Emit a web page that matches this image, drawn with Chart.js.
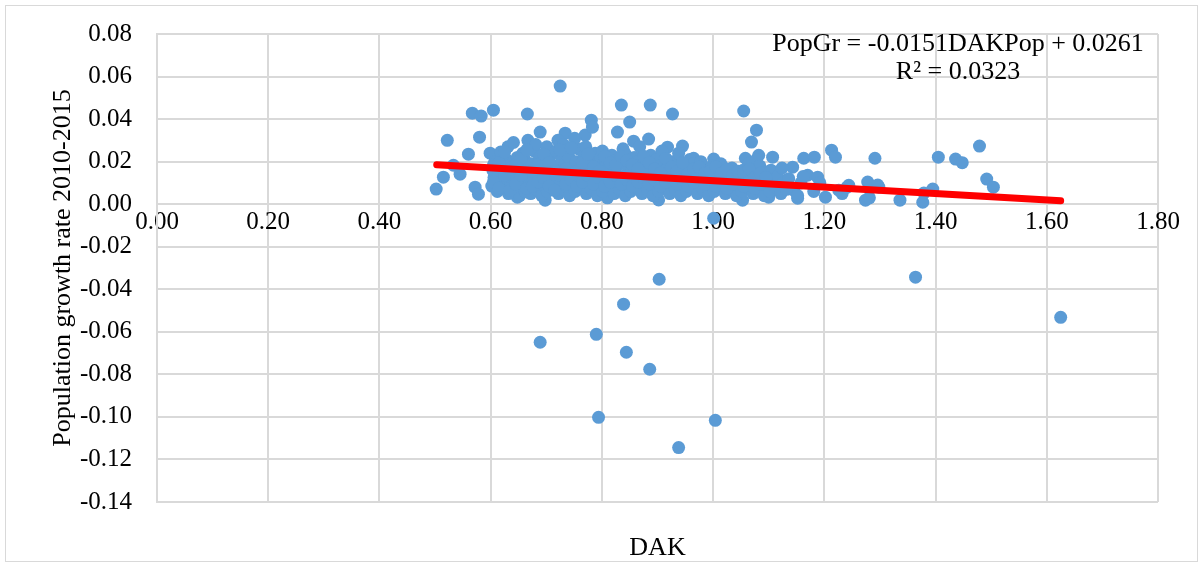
<!DOCTYPE html>
<html>
<head>
<meta charset="utf-8">
<script src="https://cdn.jsdelivr.net/npm/chart.js@4/dist/chart.umd.min.js"></script>
<style>
html,body{margin:0;padding:0;background:#fff;}
#wrap{width:1203px;height:567px;position:relative;}
</style>
</head>
<body>
<div id="wrap"><canvas id="c"></canvas></div>
<script>
// ---- data ----
const dak = [
  // distinct points
  0.502,0.515,0.522,0.533,0.545,0.560,0.567,0.572,0.578,0.580,0.583,0.599,0.605,0.648,0.666,0.689,0.698,0.725,0.734,
  0.770,0.781,0.783,0.810,0.828,0.835,0.839,0.850,0.857,0.884,0.887,0.902,0.918,0.927,0.945,0.965,1.001,1.001,1.017,
  1.053,1.055,1.058,1.069,1.078,1.082,1.100,1.107,1.121,1.143,1.145,1.152,1.163,1.170,1.182,1.188,1.202,1.213,1.220,1.226,1.244,1.274,1.278,1.291,1.296,1.298,
  1.336,1.377,1.379,1.395,1.405,1.436,1.448,1.479,1.492,1.504,
  // negative outliers
  0.903,1.364,0.839,1.625,0.689,0.790,0.844,0.886,0.794,1.004,0.938,
  // dense cluster
  0.602,0.606,0.604,0.608,
  0.612,0.616,0.614,0.618,
  0.622,0.626,0.624,0.628,
  0.632,0.636,0.634,0.638,0.631,
  0.642,0.646,0.644,0.648,0.641,
  0.652,0.656,0.654,0.658,
  0.662,0.666,0.664,0.668,0.661,0.667,
  0.672,0.676,0.674,0.678,
  0.682,0.686,0.684,0.688,0.681,
  0.692,0.696,0.694,0.698,
  0.702,0.706,0.704,0.708,0.701,
  0.712,0.716,0.714,0.718,
  0.722,0.726,0.724,0.728,0.721,
  0.732,0.736,0.734,0.738,0.731,
  0.742,0.746,0.744,0.748,0.741,
  0.752,0.756,0.754,0.758,0.751,
  0.762,0.766,0.764,0.768,
  0.772,0.776,0.774,0.778,0.771,
  0.782,0.786,0.784,0.788,
  0.792,0.796,0.794,0.798,
  0.802,0.806,0.804,0.808,0.801,
  0.812,0.816,0.814,0.818,
  0.822,0.826,0.824,0.828,
  0.832,0.836,0.834,0.838,
  0.842,0.846,0.844,0.848,0.841,
  0.852,0.856,0.854,0.858,
  0.862,0.866,0.864,0.868,
  0.872,0.876,0.874,0.878,
  0.882,0.886,0.884,0.888,
  0.892,0.896,0.894,0.898,
  0.902,0.906,0.904,0.908,
  0.912,0.916,0.914,
  0.922,0.926,0.924,0.928,
  0.932,0.936,0.934,0.938,
  0.942,0.946,0.944,
  0.952,0.956,0.954,0.958,
  0.962,0.966,0.964,
  0.972,0.976,0.974,0.978,
  0.982,0.986,0.984,
  0.992,0.996,0.994,0.998,
  1.002,1.006,1.004,
  1.012,1.016,1.014,
  1.022,1.026,1.024,
  1.032,1.036,1.034,
  1.042,1.046,1.044,
  1.052,1.056,1.054,
  1.062,1.066,1.064,
  1.072,1.076,1.074,1.078,
  1.082,1.086,1.084,
  1.092,1.096,1.094,
  1.102,1.106,1.104,
  1.112,1.116,
  1.122,1.126,1.124,
  1.132,1.136,
  1.152,1.158,1.162,1.181,1.192,1.232,1.241,1.281,
  // second cluster layer
  0.605,0.605,0.615,0.615,0.625,0.625,0.635,0.635,0.645,0.645,
  0.655,0.655,0.665,0.665,0.675,0.675,0.685,0.685,0.695,0.695,
  0.705,0.705,0.715,0.715,0.725,0.725,0.735,0.735,0.745,0.745,
  0.755,0.755,0.765,0.765,0.775,0.775,0.785,0.785,0.795,0.795,
  0.805,0.805,0.815,0.815,0.825,0.825,0.835,0.835,0.845,0.845,
  0.855,0.855,0.865,0.865,0.875,0.875,0.885,0.885,0.895,0.895,
  0.905,0.905,0.915,0.915,0.925,0.925,0.935,0.935,0.945,0.945,
  0.955,0.955,0.965,0.965,0.975,0.975,0.985,0.985,0.995,0.995,
  1.005,1.005,1.015,1.015,1.025,1.025,1.035,1.035,1.045,1.045,
  1.055,1.055,1.065,1.065,1.075,1.075,1.085,1.085,1.095,1.095
];
const popGrowth = [
  0.0071,0.0127,0.0300,0.0183,0.0141,0.0235,0.0428,0.0080,0.0047,0.0315,0.0414,0.0240,0.0442,0.0033,0.0424,0.0339,0.0019,0.0555,0.0334,
  0.0325,0.0395,0.0362,0.0030,0.0339,0.0466,0.0056,0.0386,0.0296,0.0306,0.0466,0.0020,0.0268,0.0424,0.0273,0.0216,0.0212,-0.0066,0.0174,
  0.0019,0.0438,0.0216,0.0292,0.0348,0.0230,0.0033,0.0221,0.0113,0.0174,0.0066,0.0028,0.0216,0.0136,0.0221,0.0127,0.0033,0.0254,0.0221,0.0066,0.0089,0.0019,0.0104,0.0216,0.0090,0.0080,
  0.0019,0.0009,0.0052,0.0071,0.0221,0.0212,0.0195,0.0273,0.0118,0.0080,
  -0.0353,-0.0343,-0.0470,-0.0532,-0.0649,-0.0612,-0.0696,-0.0776,-0.1002,-0.1016,-0.1144,
  0.0085,0.0125,0.016,0.020,
  0.006,0.010,0.014,0.0245,
  0.008,0.011,0.017,0.021,
  0.005,0.009,0.013,0.019,0.027,
  0.007,0.012,0.015,0.022,0.029,
  0.004,0.010,0.018,0.024,
  0.006,0.009,0.013,0.016,0.021,0.030,
  0.005,0.011,0.019,0.025,
  0.007,0.012,0.015,0.022,0.028,
  0.004,0.009,0.017,0.020,
  0.006,0.011,0.014,0.023,0.027,
  0.008,0.013,0.018,0.025,
  0.005,0.010,0.016,0.021,0.030,
  0.007,0.012,0.019,0.024,0.028,
  0.004,0.009,0.014,0.017,0.022,
  0.006,0.011,0.020,0.026,0.031,
  0.008,0.013,0.016,0.023,
  0.005,0.010,0.018,0.021,0.027,
  0.007,0.012,0.015,0.024,
  0.004,0.009,0.019,0.022,
  0.006,0.011,0.014,0.020,0.025,
  0.008,0.013,0.017,0.023,
  0.005,0.010,0.016,0.021,
  0.007,0.012,0.019,0.026,
  0.004,0.009,0.014,0.018,0.024,
  0.006,0.011,0.016,0.022,
  0.008,0.013,0.020,0.027,
  0.005,0.010,0.015,0.019,
  0.007,0.012,0.017,0.023,
  0.004,0.009,0.014,0.021,
  0.006,0.011,0.018,0.025,
  0.008,0.013,0.016,
  0.005,0.010,0.015,0.020,
  0.007,0.012,0.018,0.024,
  0.004,0.009,0.014,
  0.006,0.011,0.017,0.021,
  0.008,0.013,0.019,
  0.005,0.010,0.015,0.020,
  0.007,0.012,0.016,
  0.004,0.009,0.013,0.018,
  0.006,0.011,0.015,
  0.008,0.012,0.019,
  0.005,0.010,0.014,
  0.007,0.011,0.017,
  0.004,0.009,0.013,
  0.006,0.012,0.016,
  0.008,0.011,0.019,
  0.005,0.010,0.014,0.021,
  0.007,0.012,0.018,
  0.004,0.009,0.015,
  0.006,0.011,0.016,
  0.008,0.013,
  0.005,0.010,0.017,
  0.007,0.012,
  0.004,0.010,0.013,0.006,0.010,0.005,0.008,0.003,
  0.0105,0.0185,0.0075,0.0195,0.0135,0.0245,0.0065,0.0165,0.0095,0.0185,
  0.0135,0.0215,0.0075,0.0255,0.0085,0.0155,0.0105,0.0185,0.0125,0.0235,
  0.0085,0.0195,0.0065,0.0155,0.0135,0.0255,0.0095,0.0165,0.0115,0.0265,
  0.0085,0.0155,0.0105,0.0195,0.0135,0.0235,0.0095,0.0175,0.0125,0.0155,
  0.0085,0.0225,0.0105,0.0195,0.0135,0.0185,0.0095,0.0225,0.0115,0.0205,
  0.0085,0.0185,0.0105,0.0165,0.0125,0.0225,0.0095,0.0195,0.0115,0.0165,
  0.0085,0.0145,0.0105,0.0215,0.0125,0.0175,0.0095,0.0155,0.0115,0.0195,
  0.0085,0.0145,0.0105,0.0165,0.0125,0.0175,0.0095,0.0145,0.0115,0.0155,
  0.0085,0.0175,0.0105,0.0145,0.0075,0.0165,0.0095,0.0135,0.0115,0.0155,
  0.0085,0.0145,0.0105,0.0165,0.0075,0.0125,0.0095,0.0145,0.0115,0.0125
];
// trendline (from the equation shown in the chart)
const trendSlope = -0.0151;
const trendIntercept = 0.0261;
const trendRange = [0.503, 1.625];
const equationLines = ["PopGr = -0.0151DAKPop + 0.0261", "R\u00B2 = 0.0323"];
const xTitle = "DAK";
const yTitle = "Population growth rate 2010-2015";

// ---- build chart ----
const points = dak.map((x, i) => ({x: x, y: popGrowth[i]}));
const trend = trendRange.map(x => ({x: x, y: trendSlope * x + trendIntercept}));

const FONT = '"Liberation Serif", "Times New Roman", serif';
const GRID = '#d9d9d9';

const textPlugin = {
  id: 'texts',
  beforeDraw(chart) {
    const ctx = chart.ctx;
    ctx.save();
    ctx.strokeStyle = GRID;
    ctx.lineWidth = 1;
    ctx.strokeRect(5.5, 5.5, 1192, 556);
    ctx.restore();
  },
  afterDraw(chart) {
    const ctx = chart.ctx, a = chart.chartArea;
    ctx.save();
    ctx.fillStyle = '#000';
    ctx.textAlign = 'center';
    ctx.textBaseline = 'middle';
    ctx.font = '26px ' + FONT;
    ctx.fillText(xTitle, (a.left + a.right) / 2, 548);
    ctx.fillText(equationLines[0], 958, 44);
    ctx.fillText(equationLines[1], 958, 72);
    ctx.translate(63, (a.top + a.bottom) / 2);
    ctx.rotate(-Math.PI / 2);
    ctx.fillText(yTitle, 0, 0);
    ctx.restore();
  }
};

new Chart(document.getElementById('c'), {
  type: 'scatter',
  data: {
    datasets: [
      {
        type: 'line',
        data: trend,
        borderColor: '#ff0000',
        borderWidth: 7,
        borderCapStyle: 'round',
        pointRadius: 0,
        fill: false,
        order: 0
      },
      {
        data: points,
        backgroundColor: '#5b9bd5',
        borderWidth: 0,
        pointRadius: 6.5,
        pointHoverRadius: 6.5,
        order: 1
      }
    ]
  },
  options: {
    responsive: true,
    maintainAspectRatio: false,
    animation: false,
    layout: {padding: {left: 37, right: 45, top: 34, bottom: 65}},
    plugins: {legend: {display: false}, tooltip: {enabled: false}, title: {display: false}},
    scales: {
      x: {
        type: 'linear',
        position: {y: 0},
        min: 0, max: 1.8,
        ticks: {stepSize: 0.2, padding: 3, color: '#000', font: {family: FONT, size: 25},
                callback: v => v.toFixed(2), maxRotation: 0, autoSkip: false},
        grid: {color: GRID, lineWidth: 2, drawTicks: false},
        border: {color: GRID, width: 2}
      },
      y: {
        type: 'linear',
        min: -0.14, max: 0.08,
        ticks: {stepSize: 0.02, padding: 25, color: '#000', font: {family: FONT, size: 25},
                callback: v => v.toFixed(2)},
        grid: {color: GRID, lineWidth: 2, drawTicks: false},
        border: {color: GRID, width: 2},
        afterFit: s => { s.width = 120; s.paddingTop = 0; s.paddingBottom = 0; }
      }
    }
  },
  plugins: [textPlugin]
});
</script>
</body>
</html>
